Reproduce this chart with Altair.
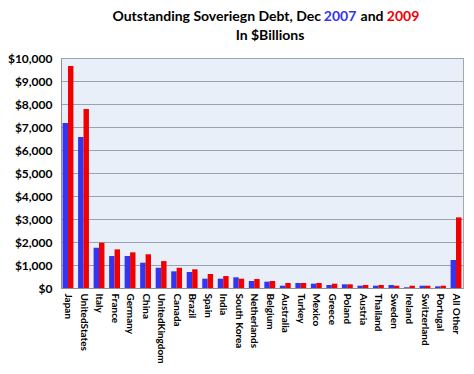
import altair as alt
import pandas as pd

countries = ["Japan", "UnitedStates", "Italy", "France", "Germany", "China",
             "UnitedKingdom", "Canada", "Brazil", "Spain", "India", "South Korea",
             "Netherlands", "Belgium", "Australia", "Turkey", "Mexico", "Greece",
             "Poland", "Austria", "Thailand", "Sweden", "Ireland", "Switzerland",
             "Portugal", "All Other"]
debt_2007 = [7170, 6570, 1750, 1390, 1390, 1100, 880, 725, 696, 405, 405, 465,
             304, 275, 100, 217, 188, 130, 160, 100, 100, 130, 30, 100, 72, 1217]
debt_2009 = [9650, 7780, 1970, 1680, 1550, 1465, 1170, 880, 813, 610, 520, 405,
             390, 304, 217, 217, 217, 188, 160, 130, 130, 100, 100, 100, 100, 3070]
years = ["2007", "2009"]
colors = ["#3535F0", "#F00000"]

rows = []
for c, a, b in zip(countries, debt_2007, debt_2009):
    rows.append({"country": c, "year": "2007", "value": a})
    rows.append({"country": c, "year": "2009", "value": b})
df = pd.DataFrame(rows)

FONT = "Lato"

bars = alt.Chart(df).mark_bar().encode(
    x=alt.X("country:N", sort=countries,
            scale=alt.Scale(paddingInner=0.3, paddingOuter=0.1),
            axis=alt.Axis(title=None, labelAngle=90, labelFont=FONT,
                          labelFontWeight="bold", labelFontSize=10,
                          labelColor="#000000", ticks=False, labelPadding=5,
                          domainColor="#909090", labelOverlap=False)),
    xOffset=alt.XOffset("year:N", sort=years),
    y=alt.Y("value:Q", scale=alt.Scale(domain=[0, 10000]),
            axis=alt.Axis(title=None, values=list(range(0, 10001, 1000)),
                          format="$,.0f", labelFont=FONT, labelFontWeight="bold",
                          labelFontSize=12, labelColor="#000000", ticks=False,
                          labelPadding=9, gridColor="#9AA3B3", domainColor="#909090")),
    color=alt.Color("year:N", scale=alt.Scale(domain=years, range=colors), legend=None),
)

title_df = pd.DataFrame({"t": [0]})

def txt(s, x, y, color, align):
    return alt.Chart(title_df).mark_text(
        text=s, font=FONT, fontWeight="bold", fontSize=14, color=color,
        align=align, baseline="middle"
    ).encode(x=alt.value(x), y=alt.value(y))

title = (
    txt("Outstanding Soveriegn Debt, Dec", 260, -41, "#000000", "right")
    + txt("2007", 279, -41, colors[0], "center")
    + txt("and", 311, -41, "#000000", "center")
    + txt("2009", 342, -41, colors[1], "center")
    + txt("In $Billions", 209, -22, "#000000", "center")
)

chart = alt.layer(bars, title).properties(
    width=402, height=230,
    autosize=alt.AutoSizeParams(type="none"),
    padding={"left": 53, "top": 50, "right": 3, "bottom": 78},
    background="#FFFFFF",
).configure_view(fill="#E9EFF9", stroke="#A8A8A8")

chart.save("out.html", embed_options={"renderer": "svg", "actions": False})
